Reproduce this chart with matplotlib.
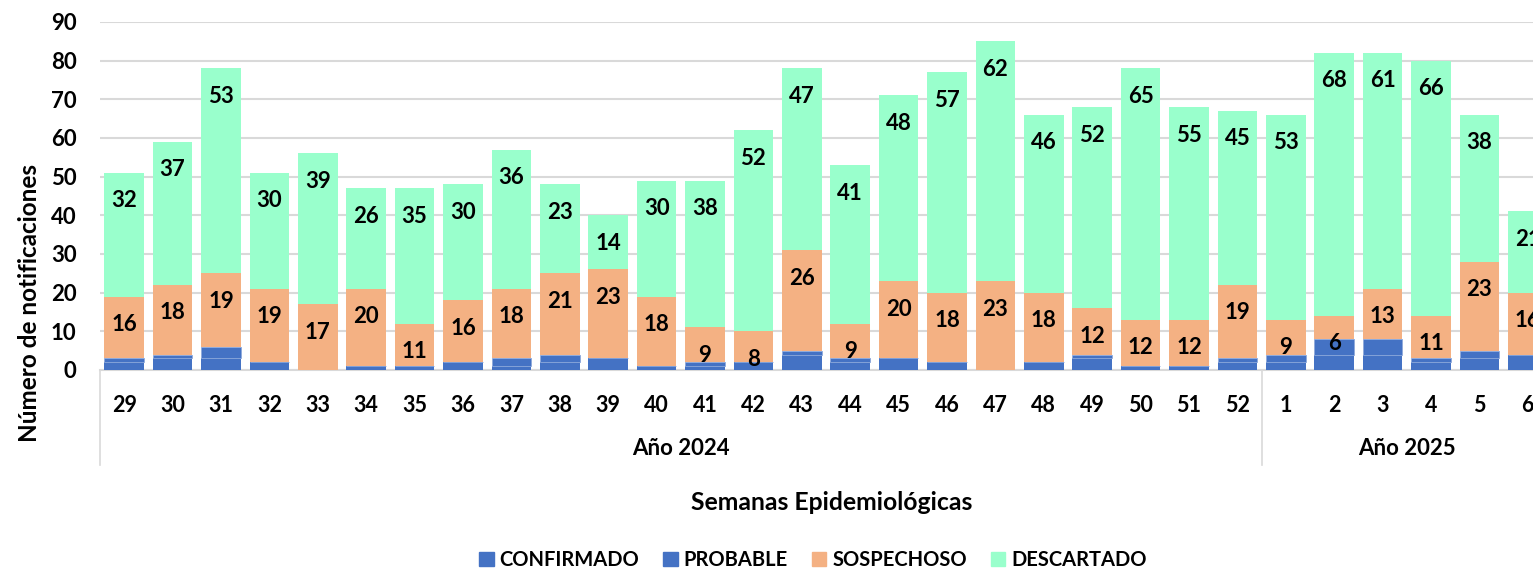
import numpy as np
import matplotlib
matplotlib.use("Agg")
import matplotlib.pyplot as plt
import matplotlib.transforms as mtransforms
from matplotlib.patches import Patch

plt.rcParams['font.family'] = ['Lato', 'DejaVu Sans']
plt.rcParams['font.weight'] = 'bold'

weeks = ['29', '30', '31', '32', '33', '34', '35', '36', '37', '38', '39', '40',
         '41', '42', '43', '44', '45', '46', '47', '48', '49', '50', '51', '52',
         '1', '2', '3', '4', '5', '6']
confirmado = [2, 3, 3, 2, 0, 1, 1, 2, 1, 2, 3, 1, 1, 2, 4, 2, 3, 2, 0, 2, 3, 1, 1, 2,
              2, 4, 4, 2, 3, 4]
probable = [1, 1, 3, 0, 0, 0, 0, 0, 2, 2, 0, 0, 1, 0, 1, 1, 0, 0, 0, 0, 1, 0, 0, 1,
            2, 4, 4, 1, 2, 0]
sospechoso = [16, 18, 19, 19, 17, 20, 11, 16, 18, 21, 23, 18, 9, 8, 26, 9, 20, 18, 23,
              18, 12, 12, 12, 19, 9, 6, 13, 11, 23, 16]
descartado = [32, 37, 53, 30, 39, 26, 35, 30, 36, 23, 14, 30, 38, 52, 47, 41, 48, 57,
              62, 46, 52, 65, 55, 45, 53, 68, 61, 66, 38, 21]
years = ['Año 2024', 'Año 2025']
year_counts = [24, 6]

c_blue = '#4472C4'
c_orange = '#F4B183'
c_green = '#99FFCC'

W, H = 1533, 573
fig = plt.figure(figsize=(W / 100, H / 100), dpi=100)
ax = fig.add_axes([100 / W, (H - 370) / H, 1452 / W, 348 / H])

x = np.arange(len(weeks))
conf = np.array(confirmado)
prob = np.array(probable)
sosp = np.array(sospechoso)
desc = np.array(descartado)
bw = 0.82

ax.bar(x, conf, bw, color=c_blue, zorder=3)
ax.bar(x, prob, bw, bottom=conf, color=c_blue, edgecolor='#8EA9DB', linewidth=0.6, zorder=3)
b1 = conf + prob
ax.bar(x, sosp, bw, bottom=b1, color=c_orange, zorder=3)
b2 = b1 + sosp
ax.bar(x, desc, bw, bottom=b2, color=c_green, zorder=3)
b3 = b2 + desc

for xi, top, v in zip(x, b2, sosp):
    ax.annotate(str(v), (xi, top), xytext=(0, -28), textcoords='offset pixels',
                ha='center', va='center', fontsize=16, fontweight='bold', zorder=5)
for xi, top, v in zip(x, b3, desc):
    ax.annotate(str(v), (xi, top), xytext=(0, -28), textcoords='offset pixels',
                ha='center', va='center', fontsize=16, fontweight='bold', zorder=5)

ax.set_xlim(-0.5, len(weeks) - 0.5)
ax.set_ylim(0, 90)
ax.set_yticks(np.arange(0, 91, 10))
ax.yaxis.grid(True, color='#D9D9D9', linewidth=1.5, zorder=0)
ax.set_axisbelow(True)
for s in ['left', 'right', 'top']:
    ax.spines[s].set_visible(False)
ax.spines['bottom'].set_color('#D9D9D9')
ax.spines['bottom'].set_linewidth(1.5)
ax.tick_params(axis='y', length=0, pad=17, labelsize=16)
ax.set_xticks(x, weeks)
ax.tick_params(axis='x', length=0, pad=18, labelsize=15.5)
for lbl in ax.get_xticklabels() + ax.get_yticklabels():
    lbl.set_fontweight('bold')

trans = mtransforms.blended_transform_factory(ax.transData, ax.transAxes)
start = -0.5
for name, n in zip(years, year_counts):
    ax.plot([start, start], [0, -0.273], transform=trans, color='#D9D9D9',
            linewidth=1.2, clip_on=False)
    ax.text(start + n / 2, -0.225, name, transform=trans, ha='center', va='center',
            fontsize=16, fontweight='bold')
    start += n
ax.plot([start, start], [0, -0.273], transform=trans, color='#D9D9D9',
        linewidth=1.2, clip_on=False)

fig.text(832 / W, 1 - 503 / H, 'Semanas Epidemiológicas', ha='center', va='center',
         fontsize=17.8, fontweight='bold')
fig.text(30 / W, 1 - 303 / H, 'Número de notificaciones', ha='center', va='center',
         rotation=90, fontsize=17.5, fontweight='bold')

handles = [Patch(color=c_blue, label='CONFIRMADO'), Patch(color=c_blue, label='PROBABLE'),
           Patch(color=c_orange, label='SOSPECHOSO'), Patch(color=c_green, label='DESCARTADO')]
fig.legend(handles=handles, loc='center', bbox_to_anchor=(813 / W, 1 - 560 / H), ncol=4,
           frameon=False, handlelength=0.7, handleheight=0.7, handletextpad=0.3,
           columnspacing=1.2, prop={'size': 14.5, 'weight': 'bold'})

fig.savefig('out.png', dpi=100)
